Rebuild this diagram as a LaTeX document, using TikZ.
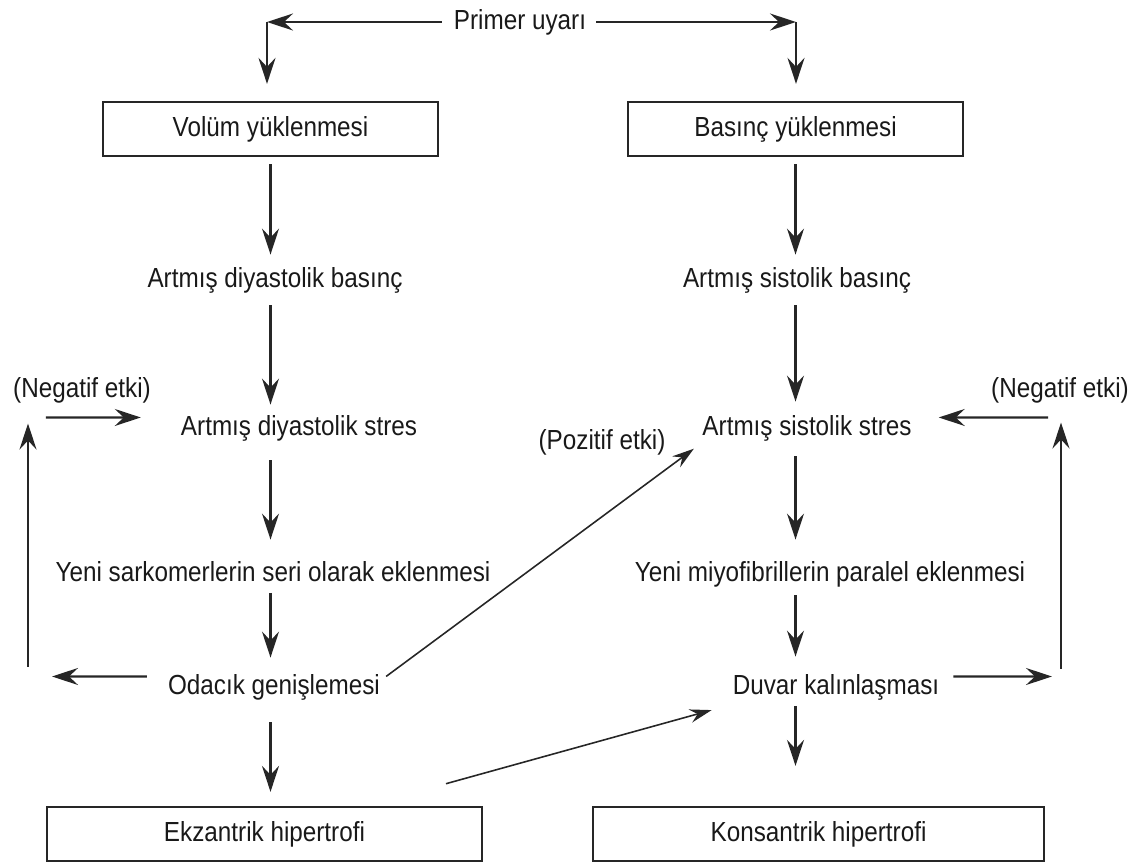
\documentclass[tikz,border=0pt]{standalone}
\usepackage{fontspec}
\setmainfont{Liberation Sans}[FakeStretch=0.88]
\usetikzlibrary{arrows.meta, calc, positioning}
\tikzset{
	stage/.style={
		rectangle,
		draw=black!85, line width=1.3pt,
		minimum height=1.08cm,
		inner sep=0pt,
		text=black!90,
		font=\fontsize{15.7}{19}\selectfont
	},
	txt/.style={
		text=black!90,
		font=\fontsize{15.7}{19}\selectfont,
		text height=11.5pt,
		text depth=3pt
	},
	flow/.style={-{Stealth[length=0.52cm,width=0.34cm,inset=0.18cm]}, line width=1.35pt, black!85},
	link/.style={-{Stealth[length=0.44cm,width=0.27cm,inset=0.15cm]}, line width=0.9pt, black!85}
}

\begin{document}
\begin{tikzpicture}[x=0.02cm,y=-0.02cm]
	\useasboundingbox (0,0) rectangle (1143,862);

	% start
	\node[txt]	(primer)	at (520,22)	{Primer uyarı};
	\coordinate	(cL)	at (267,22);
	\coordinate	(cR)	at (796,22);

	% boxes
	\node[stage, minimum width=6.7cm]	(vol)	at (270.5,129)	{Volüm yüklenmesi};
	\node[stage, minimum width=6.7cm]	(bas)	at (795.5,129)	{Basınç yüklenmesi};
	\node[stage, minimum width=8.7cm]	(ekz)	at (264.5,834)	{Ekzantrik hipertrofi};
	\node[stage, minimum width=9.02cm]	(kon)	at (818.5,834)	{Konsantrik hipertrofi};

	% left column
	\node[txt]	(dbas)	at (275,280)	{Artmış diyastolik basınç};
	\node[txt]	(dstr)	at (299,428)	{Artmış diyastolik stres};
	\node[txt]	(yeni)	at (273,574)	{Yeni sarkomerlerin seri olarak eklenmesi};
	\node[txt]	(odacik)	at (274,687)	{Odacık genişlemesi};

	% right column
	\node[txt]	(sbas)	at (797,280)	{Artmış sistolik basınç};
	\node[txt]	(sstr)	at (807,428)	{Artmış sistolik stres};
	\node[txt]	(miyo)	at (830,574)	{Yeni miyofibrillerin paralel eklenmesi};
	\node[txt]	(duvar)	at (836,687)	{Duvar kalınlaşması};

	% notes
	\node[txt]	(negL)	at (82,390)	{(Negatif etki)};
	\node[txt]	(negR)	at (1060,390)	{(Negatif etki)};
	\node[txt]	(poz)	at (602,442)	{(Pozitif etki)};

	\coordinate	(fbLlow)	at (28,676.5);
	\coordinate	(fbLtop)	at (28,417.5);
	\coordinate	(fbRlow)	at (1061,676.5);
	\coordinate	(fbRtop)	at (1061,417.5);

	\draw[flow, shorten <=0.12cm] (primer.west) -- (cL);
	\draw[flow, shorten >=0.34cm] (cL) -- (cL |- vol.north);
	\draw[flow, shorten <=0.08cm] (primer.east) -- (cR);
	\draw[flow, shorten >=0.34cm] (cR) -- (cR |- bas.north);

	\draw[flow, shorten <=0.14cm, shorten >=0.13cm] (vol.south) -- (vol.south |- dbas.north);
	\draw[flow, shorten <=0.13cm, shorten >=0.09cm] (dbas.south -| vol.south) -- (dstr.north -| vol.south);
	\draw[flow, shorten <=0.27cm, shorten >=0.31cm] (dstr.south -| vol.south) -- (yeni.north -| vol.south);
	\draw[flow, shorten >=0.21cm] (yeni.south -| vol.south) -- (odacik.north -| vol.south);
	\draw[flow, shorten <=0.33cm, shorten >=0.28cm] (odacik.south -| vol.south) -- (ekz.north -| vol.south);

	\draw[flow, shorten <=0.14cm, shorten >=0.13cm] (bas.south) -- (bas.south |- sbas.north);
	\draw[flow, shorten <=0.13cm, shorten >=0.15cm] (sbas.south -| bas.south) -- (sstr.north -| bas.south);
	\draw[flow, shorten <=0.19cm, shorten >=0.31cm] (sstr.south -| bas.south) -- (miyo.north -| bas.south);
	\draw[flow, shorten <=0.05cm, shorten >=0.23cm] (miyo.south -| bas.south) -- (duvar.north -| bas.south);
	\draw[flow, shorten >=0.8cm] (duvar.south -| bas.south) -- (kon.north -| bas.south);

	% feedback loops
	\draw[flow, shorten <=0.3cm, shorten >=0.48cm] ([yshift=6pt]odacik.west) -- (fbLlow);
	\draw[flow, shorten <=0.2cm, shorten >=0.12cm] (fbLlow) -- (fbLtop);
	\draw[flow, shorten <=0.36cm, shorten >=0.68cm] (fbLtop) -- ([yshift=6pt]dstr.west);
	\draw[flow, shorten <=0.16cm, shorten >=0.18cm] ([yshift=6pt]duvar.east) -- (fbRlow);
	\draw[flow, shorten <=0.16cm, shorten >=0.1cm] (fbRlow) -- (fbRtop);
	\draw[flow, shorten <=0.26cm, shorten >=0.42cm] (fbRtop) -- ([yshift=6pt]sstr.east);

	% cross links
	\draw[link, shorten >=0.06cm] ([yshift=6pt]odacik.east) -- (sstr.south west);
	\draw[link, shorten <=1.66cm, shorten >=0.31cm] (ekz) -- (duvar.south west);
\end{tikzpicture}
\end{document}
